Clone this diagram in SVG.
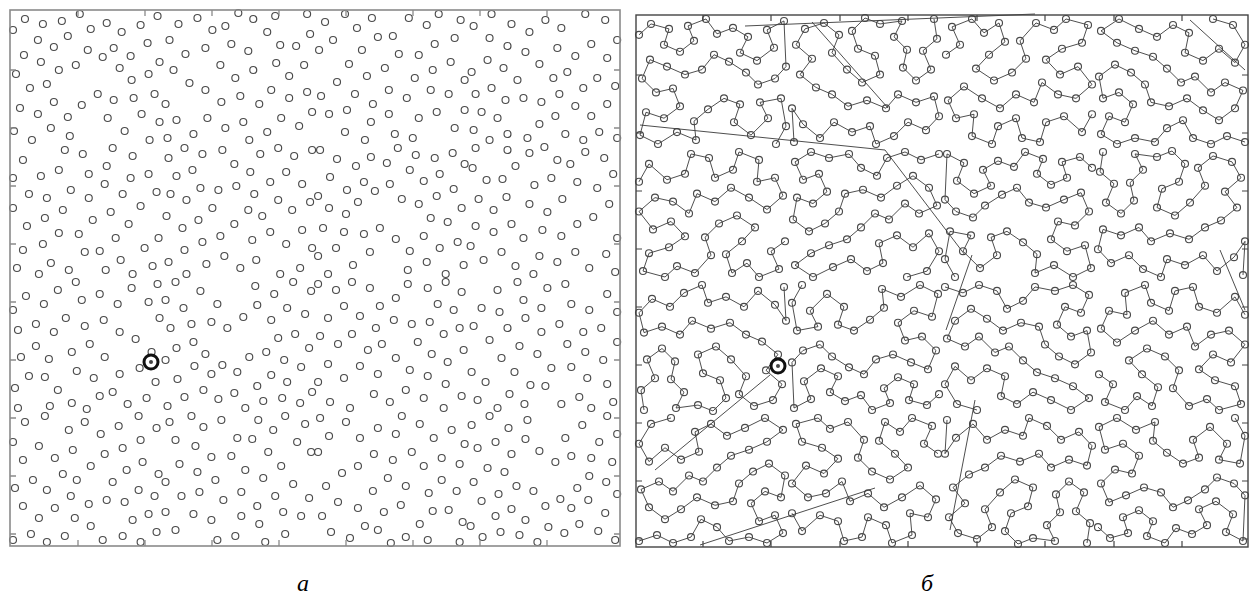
<svg xmlns="http://www.w3.org/2000/svg" xmlns:xlink="http://www.w3.org/1999/xlink" width="1249" height="595" viewBox="0 0 1249 595">
<style>
.frameA{fill:none;stroke:#8a8a8a;stroke-width:1.6}
.frameB{fill:none;stroke:#444;stroke-width:1.4}
.tickA{stroke:#8a8a8a;stroke-width:1.3}
.tickB{stroke:#444;stroke-width:1.2}
.tour{fill:none;stroke-width:0.9;stroke-linejoin:round}
.pts{marker-start:url(#p);marker-mid:url(#p);marker-end:url(#p)}
.long{fill:none;stroke:#3a3a3a;stroke-width:0.9}
.lbl{font-family:"Liberation Serif","Times New Roman",serif;font-style:italic;font-size:24px;fill:#000}
.start{fill:none;stroke:#111;stroke-width:3}
</style>
<defs>
<marker id="p" markerUnits="userSpaceOnUse" markerWidth="10" markerHeight="10" refX="5" refY="5" overflow="visible">
<circle cx="5" cy="5" r="3.5" fill="none" stroke="#4a4a4a" stroke-width="1.15"/>
</marker>
<polyline id="tA" class="tour pts" points="3,20 15,9 33,14 28,30 44,37 58,26 52,11 70,4 81,19 97,13 112,22 104,38 121,46 138,33 131,15 148,6 150,52 139,64 122,70 110,58 93,47 78,40 66,55 49,60 31,52 14,45 6,64 20,78 37,74 44,92 28,104 10,98 4,121 22,130 41,118 60,126 58,107 72,95 88,84 104,90 98,108 115,121 132,104 124,88 145,84 150,112 140,130"/>
<polyline id="tB" class="tour pts" points="8,4 5,24 19,36 11,55 26,66 39,53 35,35 48,22 40,6 62,9 77,3 90,16 84,34 67,41 62,60 80,68 95,55 110,38 103,20 118,8 137,14 146,30 130,44 142,60 126,73 110,80 94,92 75,86 56,94 44,80 26,88 8,82 3,102 16,116 34,108 48,122 66,130 72,112 90,118 108,108 122,124 139,110 150,94 148,128"/>
<polyline id="tC" class="tour pts" points="4,40 18,30 10,12 30,4 42,18 57,8 63,27 47,40 34,54 52,66 70,58 84,44 78,26 94,8 112,15 124,4 146,10 140,28 120,34 104,45 118,60 136,52 150,70 134,84 116,80 100,68 92,88 74,80 58,94 40,84 22,72 6,86 14,104 32,100 30,122 50,130 56,112 74,104 80,124 98,128 104,108 122,102 140,118 150,100"/>
<polyline id="tD" class="tour pts" points="150,6 132,12 116,4 98,10 88,28 72,20 60,6 40,10 22,4 6,14 14,32 30,26 38,44 24,56 8,50 4,72 20,84 36,76 50,64 56,46 74,42 92,50 108,38 124,28 140,40 148,58 130,66 116,56 100,72 86,66 72,80 58,92 40,98 22,106 6,118 24,130 44,120 62,112 78,124 94,116 90,96 108,88 124,100 140,86 150,104 138,124 118,130"/>
<g id="grid">
<use xlink:href="#tA" transform="translate(0,0)"/>
<use xlink:href="#tB" transform="translate(306,0) scale(-1,1)"/>
<use xlink:href="#tC" transform="translate(306,0)"/>
<use xlink:href="#tD" transform="translate(459,134) scale(1,-1)"/>
<use xlink:href="#tC" transform="translate(153,268) scale(-1,-1)"/>
<use xlink:href="#tD" transform="translate(153,134)"/>
<use xlink:href="#tA" transform="translate(459,134) scale(-1,1)"/>
<use xlink:href="#tB" transform="translate(459,134)"/>
<use xlink:href="#tB" transform="translate(0,402) scale(1,-1)"/>
<use xlink:href="#tA" transform="translate(306,402) scale(-1,-1)"/>
<use xlink:href="#tD" transform="translate(459,268) scale(-1,1)"/>
<use xlink:href="#tC" transform="translate(459,402) scale(1,-1)"/>
<use xlink:href="#tD" transform="translate(153,536) scale(-1,-1)"/>
<use xlink:href="#tC" transform="translate(306,402) scale(-1,1)"/>
<use xlink:href="#tB" transform="translate(459,536) scale(-1,-1)"/>
<use xlink:href="#tA" transform="translate(459,536) scale(1,-1)"/>
</g>
</defs>
<rect width="1249" height="595" fill="#fff"/>

<g id="panel-a">
<g id="points-a" stroke="none">
<use xlink:href="#grid" transform="translate(10,10) scale(0.997,1)"/>
</g>
<rect class="frameA" x="10" y="10" width="610" height="536"/>
<g id="ticks-a" class="tickA">
<path d="M78,10v6M145,10v6M212,10v6M279,10v6M346,10v6M413,10v6M480,10v6M547,10v6M78,546v-6M145,546v-6M212,546v-6M279,546v-6M346,546v-6M413,546v-6M480,546v-6M547,546v-6M10,70h6M10,128h6M10,186h6M10,244h6M10,302h6M10,360h6M10,418h6M10,476h6M10,534h6M620,70h-6M620,128h-6M620,186h-6M620,244h-6M620,302h-6M620,360h-6M620,418h-6M620,476h-6M620,534h-6"/>
</g>
<g id="start-a">
<circle class="start" cx="151" cy="362" r="7"/>
<circle cx="151" cy="362" r="2" fill="#444"/>
</g>
<text class="lbl" x="303" y="591" text-anchor="middle">а</text>
</g>

<g id="panel-b">
<g id="points-b" stroke="#3a3a3a">
<use xlink:href="#grid" transform="translate(636,15) scale(1,0.9925)"/>
</g>
<g id="connectors">
<path class="long" d="M745,26L1035,14"/>
<path class="long" d="M640,125L885,150L965,255"/>
<path class="long" d="M812,22L888,108"/>
<path class="long" d="M972,255L946,330"/>
<path class="long" d="M975,400L950,530"/>
<path class="long" d="M875,488L700,545"/>
<path class="long" d="M655,470L770,375"/>
<path class="long" d="M1190,20L1245,70"/>
<path class="long" d="M1220,250L1245,310"/>
</g>
<rect class="frameB" x="636" y="15" width="612" height="532"/>
<g id="ticks-b" class="tickB">
<path d="M703,15v6M771,15v6M840,15v6M908,15v6M977,15v6M1045,15v6M1114,15v6M1182,15v6M703,547v-6M771,547v-6M840,547v-6M908,547v-6M977,547v-6M1045,547v-6M1114,547v-6M1182,547v-6M636,75h6M636,133h6M636,191h6M636,249h6M636,307h6M636,365h6M636,423h6M636,481h6M636,539h6M1248,75h-6M1248,133h-6M1248,191h-6M1248,249h-6M1248,307h-6M1248,365h-6M1248,423h-6M1248,481h-6M1248,539h-6"/>
</g>
<g id="start-b">
<circle class="start" cx="778" cy="366" r="7"/>
<circle cx="778" cy="366" r="2" fill="#444"/>
</g>
<text class="lbl" x="927" y="591" text-anchor="middle">б</text>
</g>
</svg>
